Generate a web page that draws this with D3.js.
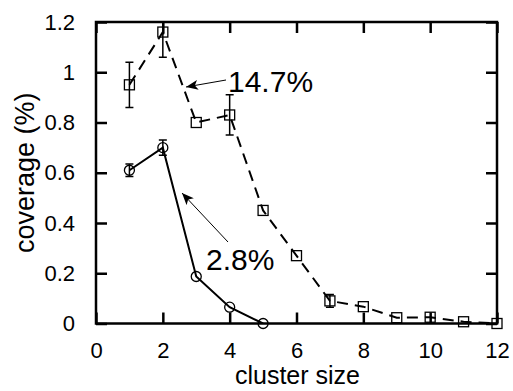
<!DOCTYPE html>
<html>
<head>
<meta charset="utf-8">
<script src="https://cdn.jsdelivr.net/npm/d3@7"></script>
<style>
  body { margin: 0; background: #fff; }
  text { font-family: "Liberation Sans", Arial, sans-serif; fill: #000; }
</style>
</head>
<body>
<svg id="chart" width="513" height="391"></svg>
<script>
// cluster size on x, coverage (%) on y
var clusterSizes = [1, 2, 3, 4, 5, 6, 7, 8, 9, 10, 11, 12];
var coverage147 = [0.95, 1.16, 0.80, 0.83, 0.45, 0.27, 0.09, 0.067, 0.023, 0.025, 0.007, 0.0];
var error147 = [0.09, 0.10, 0, 0.08, 0, 0, 0.025, 0, 0, 0, 0, 0];
var clusterSizes28 = [1, 2, 3, 4, 5];
var coverage28 = [0.61, 0.70, 0.187, 0.065, 0.0];
var error28 = [0.025, 0.03, 0, 0, 0];
var xTicks = [0, 2, 4, 6, 8, 10, 12];
var yTicks = [0, 0.2, 0.4, 0.6, 0.8, 1, 1.2];

var margin = {top: 22, right: 16, bottom: 67.5, left: 96},
  width = 513 - margin.left - margin.right,
  height = 391 - margin.top - margin.bottom;

var svg = d3.select("#chart");
var g = svg.append("g").attr("transform", "translate(" + margin.left + "," + margin.top + ")");

var x = d3.scaleLinear().domain([0, 12]).range([0, width]);
var y = d3.scaleLinear().domain([0, 1.2]).range([height, 0]);

svg.append("defs").append("clipPath").attr("id", "plotclip")
  .append("rect").attr("x", 0).attr("y", 0).attr("width", width).attr("height", height);

svg.select("defs").append("marker")
  .attr("id", "arrow").attr("viewBox", "0 0 12 10")
  .attr("refX", 12).attr("refY", 5)
  .attr("markerWidth", 12).attr("markerHeight", 10)
  .attr("markerUnits", "userSpaceOnUse")
  .attr("orient", "auto")
  .append("path").attr("d", "M0,0 L12,5 L0,10 L3,5 Z").attr("fill", "#000");

// axes with inward ticks
var fmt = function(d) { return d === 0 ? "0" : d3.format("")(d); };
var tickLen = 11;

var xAxis = g.append("g").attr("transform", "translate(0," + height + ")")
  .call(d3.axisBottom(x).tickValues(xTicks).tickSizeInner(-tickLen).tickSizeOuter(0).tickPadding(tickLen + 8).tickFormat(fmt));
var yAxis = g.append("g")
  .call(d3.axisLeft(y).tickValues(yTicks).tickSizeInner(-tickLen).tickSizeOuter(0).tickPadding(tickLen + 10).tickFormat(fmt));
var xTop = g.append("g")
  .call(d3.axisTop(x).tickValues(xTicks).tickSizeInner(-tickLen).tickSizeOuter(0).tickFormat(""));
var yRight = g.append("g").attr("transform", "translate(" + width + ",0)")
  .call(d3.axisRight(y).tickValues(yTicks).tickSizeInner(-tickLen).tickSizeOuter(0).tickFormat(""));

[xAxis, yAxis, xTop, yRight].forEach(function(a) {
  a.select(".domain").remove();
  a.selectAll(".tick line").attr("stroke", "#000").attr("stroke-width", 2.5);
  a.selectAll(".tick text").attr("font-size", 22).attr("fill", "#000");
});

g.append("rect").attr("x", 0).attr("y", 0).attr("width", width).attr("height", height)
  .attr("fill", "none").attr("stroke", "#000").attr("stroke-width", 2.5);

// axis titles
svg.append("text")
  .attr("x", margin.left + width / 2 + 1).attr("y", 384)
  .attr("text-anchor", "middle").attr("font-size", 25)
  .text("cluster size");
svg.append("text")
  .attr("transform", "translate(34," + (margin.top + height / 2) + ") rotate(-90)")
  .attr("text-anchor", "middle").attr("font-size", 27)
  .text("coverage (%)");

var plot = g.append("g").attr("clip-path", "url(#plotclip)");

var data147 = clusterSizes.map(function(c, i) { return {x: c, y: coverage147[i], e: error147[i]}; });
var data28 = clusterSizes28.map(function(c, i) { return {x: c, y: coverage28[i], e: error28[i]}; });

var line = d3.line().x(function(d) { return x(d.x); }).y(function(d) { return y(d.y); });

plot.append("path").datum(data147).attr("d", line)
  .attr("fill", "none").attr("stroke", "#000").attr("stroke-width", 2)
  .attr("stroke-dasharray", "11,7");
plot.append("path").datum(data28).attr("d", line)
  .attr("fill", "none").attr("stroke", "#000").attr("stroke-width", 2);

function errorBars(data) {
  var eb = plot.append("g").selectAll("g")
    .data(data.filter(function(d) { return d.e > 0; }))
    .enter().append("g").attr("stroke", "#000").attr("stroke-width", 1.5);
  eb.append("line")
    .attr("x1", function(d) { return x(d.x); }).attr("x2", function(d) { return x(d.x); })
    .attr("y1", function(d) { return y(d.y - d.e); }).attr("y2", function(d) { return y(d.y + d.e); });
  eb.append("line")
    .attr("x1", function(d) { return x(d.x) - 4; }).attr("x2", function(d) { return x(d.x) + 4; })
    .attr("y1", function(d) { return y(d.y - d.e); }).attr("y2", function(d) { return y(d.y - d.e); });
  eb.append("line")
    .attr("x1", function(d) { return x(d.x) - 4; }).attr("x2", function(d) { return x(d.x) + 4; })
    .attr("y1", function(d) { return y(d.y + d.e); }).attr("y2", function(d) { return y(d.y + d.e); });
}
errorBars(data147);
errorBars(data28);

g.append("g").selectAll("rect").data(data147).enter().append("rect")
  .attr("x", function(d) { return x(d.x) - 5; })
  .attr("y", function(d) { return y(d.y) - 5; })
  .attr("width", 10).attr("height", 10)
  .attr("fill", "none").attr("stroke", "#000").attr("stroke-width", 1.3);

g.append("g").selectAll("circle").data(data28).enter().append("circle")
  .attr("cx", function(d) { return x(d.x); })
  .attr("cy", function(d) { return y(d.y); })
  .attr("r", 5)
  .attr("fill", "none").attr("stroke", "#000").attr("stroke-width", 1.3);

// annotations
svg.append("line").attr("x1", 226).attr("y1", 80).attr("x2", 186).attr("y2", 87)
  .attr("stroke", "#000").attr("stroke-width", 1).attr("marker-end", "url(#arrow)");
svg.append("text").attr("x", 228).attr("y", 92).attr("font-size", 30).text("14.7%");

svg.append("line").attr("x1", 228).attr("y1", 242).attr("x2", 182).attr("y2", 193)
  .attr("stroke", "#000").attr("stroke-width", 1).attr("marker-end", "url(#arrow)");
svg.append("text").attr("x", 206).attr("y", 270).attr("font-size", 30).text("2.8%");
</script>
</body>
</html>
